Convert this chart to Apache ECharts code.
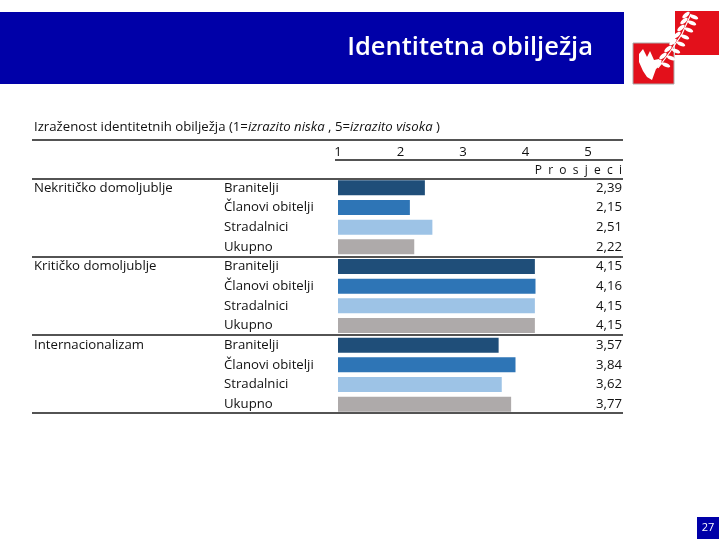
<!DOCTYPE html>
<html>
<head>
<meta charset="utf-8">
<script src="https://cdn.jsdelivr.net/npm/echarts@6/dist/echarts.min.js"></script>
<style>
  html, body { margin: 0; padding: 0; background: #fff; }
  #chart { width: 720px; height: 540px; }
</style>
</head>
<body>
<div id="chart"></div>
<script>
// data
const groups = ['Nekritičko domoljublje', 'Kritičko domoljublje', 'Internacionalizam'];
const subgroups = ['Branitelji', 'Članovi obitelji', 'Stradalnici', 'Ukupno'];
const nekriticko = [2.39, 2.15, 2.51, 2.22];
const kriticko = [4.15, 4.16, 4.15, 4.15];
const internacionalizam = [3.57, 3.84, 3.62, 3.77];
const tickLabels = ['1', '2', '3', '4', '5'];

const subColors = ['#1f4e79', '#2e75b6', '#9dc3e6', '#aeaaaa'];
const FONT = '"Open Sans"';
const FS = 13.2;

const groupValues = [nekriticko, kriticko, internacionalizam];

// flatten into 12 table rows
let rowSub = [], rowGroup = [], rowVal = [], barData = [];
groupValues.forEach(function (vals, g) {
    vals.forEach(function (v, s) {
        rowSub.push(subgroups[s]);
        rowGroup.push(s === 0 ? groups[g] : '');
        rowVal.push(v.toFixed(2).replace('.', ','));
        barData.push({ value: v, itemStyle: { color: subColors[s] } });
    });
});

const myChart = echarts.init(document.getElementById('chart'));

const lineStyle = { stroke: '#1a1a1a', lineWidth: 1.6 };
function rule(x1, x2, y) {
    return { type: 'line', shape: { x1: x1, y1: y, x2: x2, y2: y }, style: lineStyle, z: 10 };
}

// rough dove + olive branch for the logo
let branch = [];
const leafPts = [[662, 64], [667, 57], [672, 50], [677, 43], [681, 36], [685, 29], [688, 22], [690, 16]];
leafPts.forEach(function (p) {
    branch.push({ type: 'ellipse', shape: { cx: p[0] - 4, cy: p[1] - 1, rx: 4.5, ry: 2 }, rotation: 0.7, originX: p[0] - 4, originY: p[1] - 1, style: { fill: '#fff' }, z: 5 });
    branch.push({ type: 'ellipse', shape: { cx: p[0] + 4, cy: p[1] + 1, rx: 4.5, ry: 2 }, rotation: -0.4, originX: p[0] + 4, originY: p[1] + 1, style: { fill: '#fff' }, z: 5 });
});

const option = {
    animation: false,
    textStyle: { fontFamily: FONT },
    grid: { left: 338, right: 132, top: 178, bottom: 126, containLabel: false },
    xAxis: {
        type: 'value',
        position: 'top',
        min: 1,
        max: 5,
        interval: 1,
        axisLine: { show: false },
        axisTick: { show: false },
        splitLine: { show: false },
        axisLabel: {
            margin: 19,
            color: '#111',
            fontSize: FS,
            fontFamily: FONT,
            formatter: function (v) { return tickLabels[Math.round(v) - 1]; }
        }
    },
    yAxis: [
        {
            type: 'category', inverse: true, data: rowSub, position: 'left',
            axisLine: { show: false }, axisTick: { show: false },
            axisLabel: { interval: 0, align: 'left', margin: 114, color: '#111', fontSize: FS, fontFamily: FONT }
        },
        {
            type: 'category', inverse: true, data: rowGroup, position: 'left',
            axisLine: { show: false }, axisTick: { show: false },
            axisLabel: { interval: 0, align: 'left', margin: 304, color: '#111', fontSize: FS, fontFamily: FONT }
        },
        {
            type: 'category', inverse: true, data: rowVal, position: 'right',
            axisLine: { show: false }, axisTick: { show: false },
            axisLabel: { interval: 0, align: 'right', margin: 34, color: '#111', fontSize: FS, fontFamily: FONT }
        }
    ],
    series: [{
        type: 'bar',
        yAxisIndex: 0,
        data: barData,
        barWidth: 15
    }],
    graphic: [
        // header band
        { type: 'rect', shape: { x: 0, y: 12, width: 624, height: 72 }, style: { fill: '#0000a8' } },
        { type: 'text', x: 593, y: 48, style: { text: 'Identitetna obilježja', fill: '#fff', font: '600 25.5px "Open Sans"', textAlign: 'right', textVerticalAlign: 'middle' } },
        // logo
        { type: 'rect', shape: { x: 633, y: 43, width: 41, height: 41 }, style: { fill: '#e3101b', stroke: '#aaa', lineWidth: 1 } },
        { type: 'rect', shape: { x: 675, y: 11, width: 44, height: 44 }, style: { fill: '#e3101b' } },
        { type: 'polygon', shape: { points: [[639, 54], [643, 49], [647, 57], [650, 51], [654, 60], [659, 59], [662, 64], [656, 69], [652, 80], [647, 77], [643, 71], [639, 62]] }, style: { fill: '#fff' }, z: 5 },
        { type: 'polyline', shape: { points: [[658, 68], [670, 52], [682, 34], [691, 14]] }, style: { stroke: '#fff', lineWidth: 1.2, fill: null }, z: 5 }
    ].concat(branch).concat([
        // table caption
        {
            type: 'text', x: 34, y: 127,
            style: {
                text: '{n|Izraženost identitetnih obilježja (1=}{i|izrazito niska}{n| , 5=}{i|izrazito visoka}{n| )}',
                textVerticalAlign: 'middle',
                rich: {
                    n: { fontFamily: FONT, fontSize: FS, fill: '#111', color: '#111' },
                    i: { fontFamily: FONT, fontSize: FS, fontStyle: 'italic', fill: '#111', color: '#111' }
                }
            }
        },
        { type: 'text', x: 622, y: 171, style: { text: 'P  r  o  s  j  e  c  i', fill: '#111', font: '12px ' + FONT, textAlign: 'right', textVerticalAlign: 'middle' } },
        // table rules
        rule(32, 623, 140),
        rule(335, 623, 160),
        rule(32, 623, 179),
        rule(32, 623, 257),
        rule(32, 623, 335),
        rule(32, 623, 413),
        // page number
        { type: 'rect', shape: { x: 697, y: 517, width: 22, height: 22 }, style: { fill: '#0000a8' } },
        { type: 'text', x: 708, y: 528, style: { text: '27', fill: '#fff', font: '11px ' + FONT, textAlign: 'center', textVerticalAlign: 'middle' } }
    ])
};

myChart.setOption(option);
</script>
</body>
</html>
